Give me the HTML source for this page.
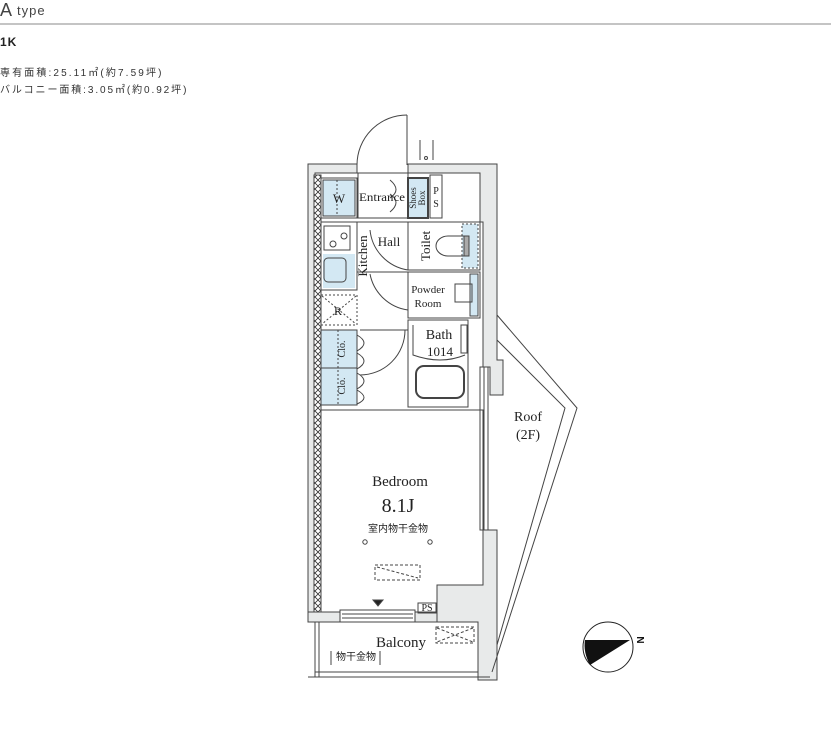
<!DOCTYPE html>
<html><head><meta charset="utf-8"><style>
body{margin:0;background:#fff;width:831px;height:730px;overflow:hidden;font-family:"Liberation Sans","Noto Sans CJK JP",sans-serif;}
</style></head><body>
<svg width="831" height="730" viewBox="0 0 831 730" xmlns="http://www.w3.org/2000/svg">
<defs>
<pattern id="hx" width="6" height="6" patternUnits="userSpaceOnUse">
<rect width="6" height="6" fill="#fff"/>
<path d="M0 0L6 6M6 0L0 6" stroke="#333" stroke-width="0.8"/>
</pattern>
</defs>
<!-- header -->
<text x="0" y="16" font-size="18" fill="#444">A</text>
<text x="17" y="15" font-size="13" fill="#444" letter-spacing="1">type</text>
<line x1="0" y1="24" x2="831" y2="24" stroke="#888" stroke-width="1"/>
<text x="0" y="46" font-size="12" font-weight="bold" fill="#222" letter-spacing="1">1K</text>
<text x="0" y="76" font-size="10" fill="#333" letter-spacing="0.6" textLength="162" lengthAdjust="spacing">専有面積:25.11㎡(約7.59坪)</text>
<text x="0" y="93" font-size="10" fill="#333" letter-spacing="0.6" textLength="187" lengthAdjust="spacing">バルコニー面積:3.05㎡(約0.92坪)</text>

<g stroke="#444" stroke-width="1" fill="none">
<path d="M308 164H357V173H315V612H308Z" fill="#e8eaea"/>
<path d="M408 164H497V360H503V395H490V367H483V222H480V173H408Z" fill="#e8eaea"/>
<path d="M483 530H497V680H478V622H433V612H437V585H483Z" fill="#e8eaea"/>
<path d="M308 612H340V622H308Z" fill="#e8eaea"/>
<path d="M415 612H437V622H415Z" fill="#e8eaea"/>
<rect x="314" y="175" width="7" height="437" fill="url(#hx)"/>
<rect x="480" y="367" width="8" height="163" fill="#fff"/>
<line x1="484" y1="367" x2="484" y2="530"/>
<line x1="407" y1="115" x2="407" y2="165"/>
<path d="M357 165A50 50 0 0 1 407 115"/>
<line x1="420" y1="140" x2="420" y2="160"/><line x1="433" y1="140" x2="433" y2="160"/>
<circle cx="426" cy="158" r="1.5"/>
<rect x="321" y="178" width="36" height="40"/>
<rect x="323" y="180" width="32" height="36" fill="#d3e8f3"/>
<line x1="337" y1="180" x2="337" y2="216" stroke-dasharray="2 2"/>
<rect x="358" y="173" width="50" height="45"/>
<rect x="408" y="178" width="20" height="40" fill="#d3e8f3" stroke-width="2"/>
<rect x="430" y="175" width="12" height="43"/>
<path d="M390 180q12 10 0 18M390 212q12 -10 0 -18"/>
<rect x="408" y="222" width="72" height="48"/>
<rect x="462" y="224" width="16" height="44" fill="#d3e8f3" stroke-dasharray="2 2"/>
<rect x="464" y="236" width="5" height="20" fill="#aaa"/>
<path d="M465 236H448a12 10 0 0 0 0 20H465"/>
<rect x="408" y="272" width="72" height="46"/>
<rect x="470" y="274" width="8" height="42" fill="#d3e8f3"/>
<rect x="455" y="284" width="17" height="18"/>
<rect x="408" y="320" width="60" height="87"/>
<path d="M413 325V355q28 10 52 0"/>
<rect x="416" y="366" width="48" height="32" rx="8" stroke-width="2"/>
<rect x="461" y="325" width="6" height="28"/>
<path d="M370 230A45 45 0 0 0 408 270"/>
<path d="M370 274A45 45 0 0 0 408 310"/>
<line x1="357" y1="272" x2="408" y2="272"/>
<line x1="357" y1="222" x2="408" y2="222"/>
<rect x="321" y="222" width="36" height="68"/>
<rect x="324" y="226" width="26" height="24"/>
<circle cx="333" cy="244" r="3"/><circle cx="344" cy="236" r="3"/>
<rect x="323" y="254" width="32" height="34" fill="#d3e8f3" stroke="none"/>
<rect x="324" y="258" width="22" height="24" rx="4"/>
<rect x="321" y="295" width="36" height="30" stroke-dasharray="2 2"/>
<path d="M322 296L356 324M356 296L322 324" stroke-dasharray="2 2"/>
<rect x="321" y="330" width="36" height="38" fill="#d3e8f3"/>
<rect x="321" y="368" width="36" height="37" fill="#d3e8f3"/>
<line x1="338" y1="330" x2="338" y2="405" stroke-dasharray="2 2"/>
<path d="M357 335q14 8 0 16M357 353q14 8 0 16M357 373q14 8 0 16M357 390q14 8 0 14"/>
<line x1="360" y1="330" x2="408" y2="330"/>
<path d="M360 375A45 45 0 0 0 405 330"/>
<path d="M321 410H483V585H437V612H321" />
<rect x="375" y="565" width="45" height="15" stroke-dasharray="3 2"/>
<line x1="377" y1="567" x2="418" y2="578" stroke-dasharray="3 2"/>
<circle cx="365" cy="542" r="2.2"/><circle cx="430" cy="542" r="2.2"/>
<path d="M373 600h10l-5 6z" fill="#222"/>
<rect x="418" y="603" width="18" height="10"/>
<rect x="340" y="610" width="75" height="12" fill="#fff"/>
<line x1="342" y1="614" x2="413" y2="614"/><line x1="342" y1="618" x2="413" y2="618"/>
<line x1="315" y1="622" x2="478" y2="622"/>
<line x1="315" y1="672" x2="478" y2="672"/><line x1="308" y1="677" x2="490" y2="677"/>
<line x1="315" y1="622" x2="315" y2="677"/><line x1="319" y1="622" x2="319" y2="677"/>
<rect x="436" y="627" width="38" height="16" stroke-dasharray="3 2"/>
<path d="M437 628L473 642M473 628L437 642" stroke-dasharray="3 2"/>
<line x1="331" y1="651" x2="331" y2="665"/><line x1="380" y1="651" x2="380" y2="665"/>
<path d="M497 315L577 408L492 672"/>
<path d="M497 340L565 408L497 645"/>
<circle cx="608" cy="647" r="25" stroke="#222"/>
<path d="M585 640L630 640L590 665Q583 652 585 640Z" fill="#111" stroke="none"/>
</g>
<g font-family="'Liberation Serif','Noto Serif CJK SC',serif" fill="#222">
<text x="339" y="203" font-size="13" text-anchor="middle">W</text>
<text x="382" y="201" font-size="12" text-anchor="middle" textLength="46" lengthAdjust="spacingAndGlyphs">Entrance</text>
<text transform="translate(416,198) rotate(-90)" font-size="9" text-anchor="middle">Shoes</text>
<text transform="translate(425,198) rotate(-90)" font-size="9" text-anchor="middle">Box</text>
<text x="436" y="194" font-size="10" text-anchor="middle">P</text>
<text x="436" y="207" font-size="10" text-anchor="middle">S</text>
<text x="389" y="246" font-size="13" text-anchor="middle">Hall</text>
<text transform="translate(430,246) rotate(-90)" font-size="13" text-anchor="middle">Toilet</text>
<text transform="translate(367,256) rotate(-90)" font-size="13" text-anchor="middle">Kitchen</text>
<text x="428" y="293" font-size="11" text-anchor="middle">Powder</text>
<text x="428" y="307" font-size="11" text-anchor="middle">Room</text>
<text x="439" y="339" font-size="14" text-anchor="middle">Bath</text>
<text x="440" y="356" font-size="13" text-anchor="middle">1014</text>
<text x="338" y="315" font-size="12" text-anchor="middle">R</text>
<text transform="translate(345,349) rotate(-90)" font-size="10" text-anchor="middle">Clo.</text>
<text transform="translate(345,386) rotate(-90)" font-size="10" text-anchor="middle">Clo.</text>
<text x="528" y="421" font-size="14" text-anchor="middle">Roof</text>
<text x="528" y="439" font-size="14" text-anchor="middle">(2F)</text>
<text x="400" y="486" font-size="15" text-anchor="middle">Bedroom</text>
<text x="398" y="512" font-size="20" text-anchor="middle">8.1J</text>
<text x="427" y="611" font-size="10" text-anchor="middle">PS</text>
<text x="401" y="647" font-size="15" text-anchor="middle">Balcony</text>
</g>
<text x="398" y="532" font-size="10" text-anchor="middle" fill="#222">室内物干金物</text>
<text x="356" y="660" font-size="10" text-anchor="middle" fill="#222">物干金物</text>
<text transform="translate(637,640) rotate(90)" font-size="10" font-weight="bold" text-anchor="middle" fill="#111">N</text>
</svg>
</body></html>
